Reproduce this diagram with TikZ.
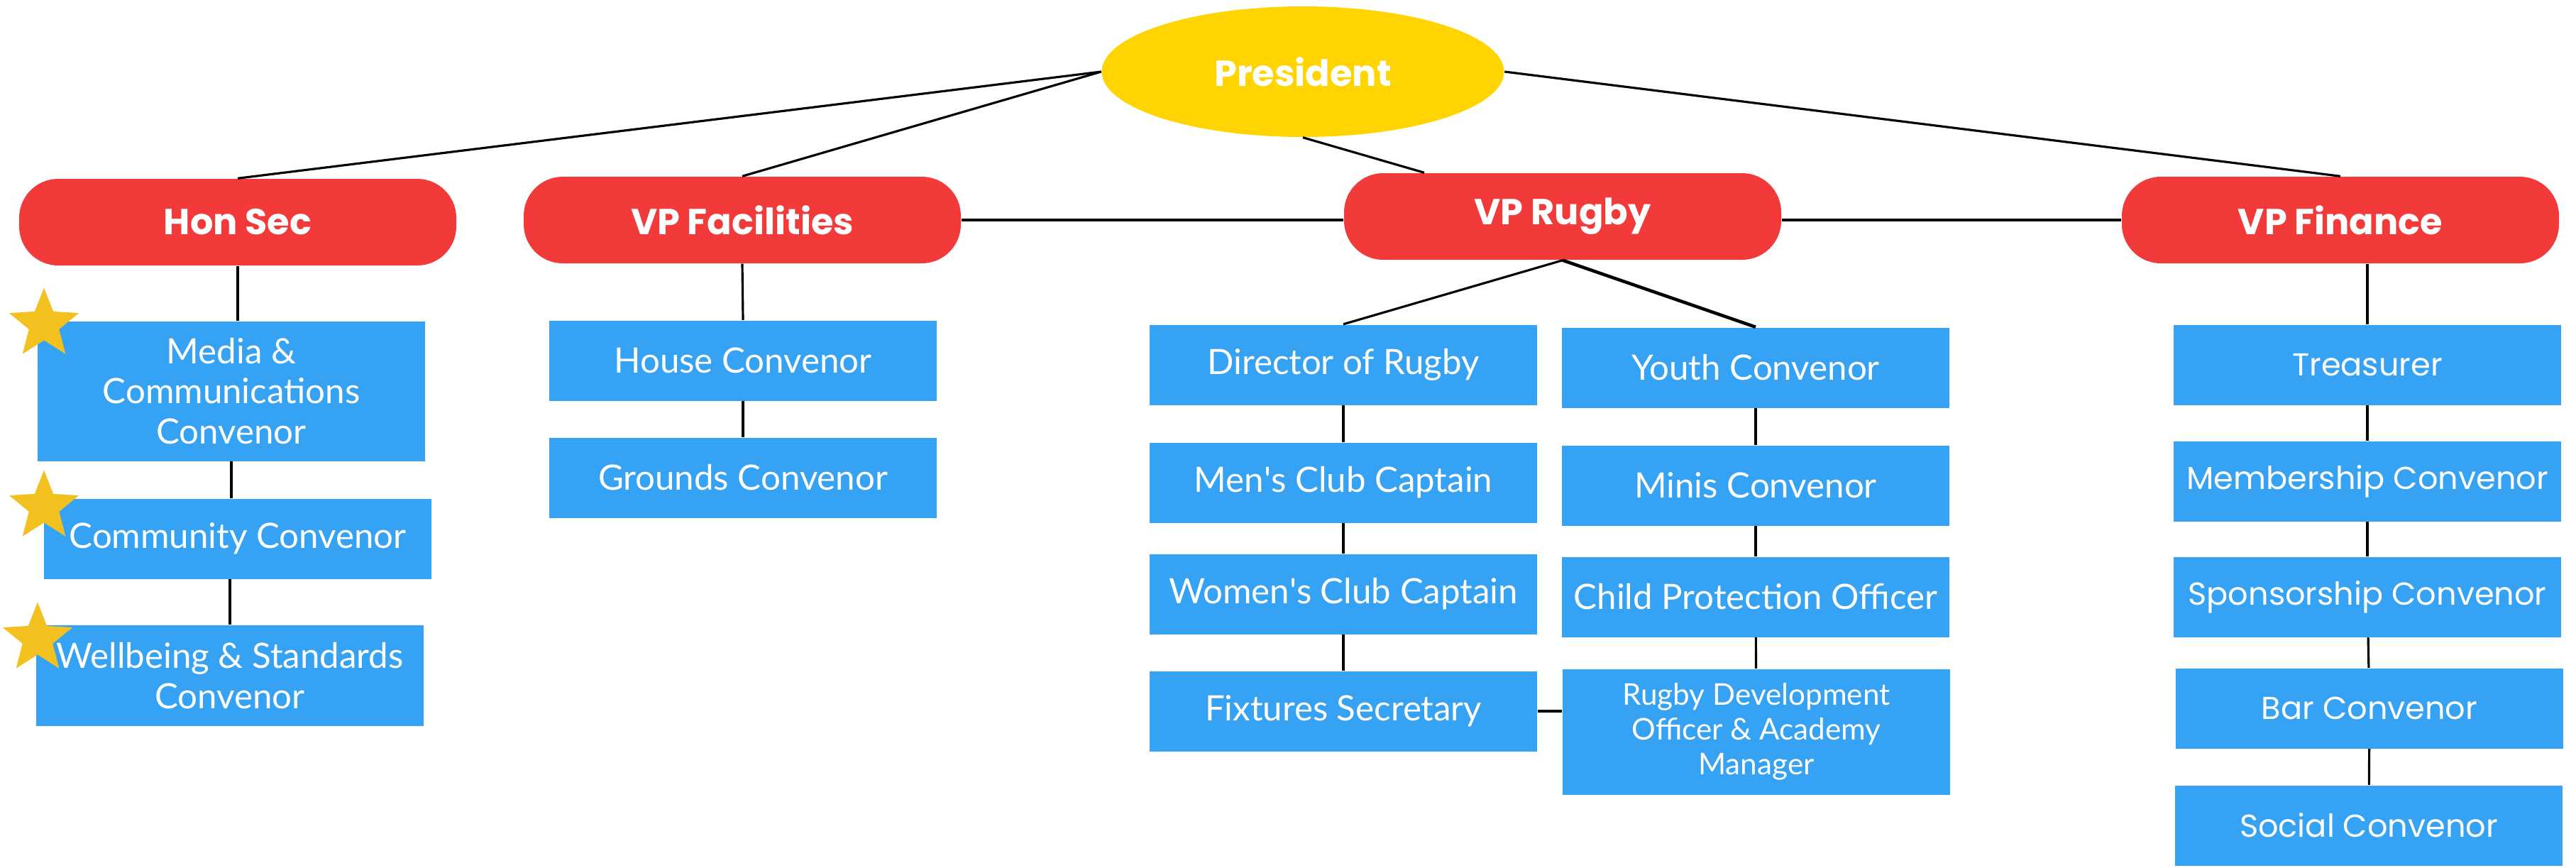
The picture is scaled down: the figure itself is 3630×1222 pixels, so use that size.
\documentclass[tikz,border=0pt]{standalone}
\usepackage{fontspec}
\setmainfont{Lato}
\newfontfamily\finfont{Poppins}
\usetikzlibrary{shapes.geometric}
\definecolor{pillred}{HTML}{F23A3A}
\definecolor{boxblue}{HTML}{36A2F3}
\definecolor{presgold}{HTML}{FFD400}
\definecolor{stargold}{HTML}{F2C11F}
\begin{document}
\begin{tikzpicture}[x=0.1mm,y=-0.1mm,
                    pill/.style={fill=pillred,rounded corners=5.5mm,minimum width=61.6mm,minimum height=12.2mm,text=white,font=\finfont\bfseries\fontsize{14.5}{17}\selectfont},
                    post/.style={fill=boxblue,minimum width=54.6mm,minimum height=11.3mm,inner sep=1mm,text=white,align=center,font=\fontsize{14}{16}\selectfont},
                    finpost/.style={post,font=\finfont\fontsize{12.7}{15}\selectfont},
                    goldstar/.style={star,star points=5,star point ratio=2.3,fill=stargold,minimum size=10.3mm,inner sep=0pt},
                    link/.style={line width=0.9pt}]
\useasboundingbox (0,0) rectangle (3630,1222);
% top of the tree
\node[ellipse,fill=presgold,minimum width=56.7mm,minimum height=18.4mm,text=white,font=\finfont\bfseries\fontsize{14.5}{17}\selectfont] (pres) at (1836,101) {President};
\node[pill] (hon) at (335,313) {Hon Sec};
\node[pill] (fac) at (1046,310) {VP Facilities};
\node[pill] (rug) at (2202,305) {VP Rugby};
\node[pill] (fin) at (3298,310) {VP Finance};
% hon sec
\node[post,minimum height=19.7mm] (media) at (326,551) {Media \&\\Communications\\Convenor};
\node[post] (comm) at (335,759) {Community Convenor};
\node[post,minimum height=14.2mm] (well) at (324,952) {Wellbeing \& Standards\\Convenor};
% facilities
\node[post] (house) at (1047,508) {House Convenor};
\node[post] (ground) at (1047,673) {Grounds Convenor};
% rugby
\node[post] (dir) at (1893,514) {Director of Rugby};
\node[post] (men) at (1893,680) {Men\textquotesingle s Club Captain};
\node[post] (women) at (1893,837) {Women\textquotesingle s Club Captain};
\node[post] (fix) at (1893,1002) {Fixtures Secretary};
\node[post] (youth) at (2474,518) {Youth Convenor};
\node[post] (minis) at (2474,684) {Minis Convenor};
\node[post] (child) at (2474,841) {Child Protection Officer};
\node[post,minimum height=17.7mm,font=\fontsize{12}{14}\selectfont] (rdo) at (2475,1031) {Rugby Development\\Officer \& Academy\\Manager};
% finance
\node[finpost] (treas) at (3336,514) {Treasurer};
\node[finpost] (memb) at (3336,678) {Membership Convenor};
\node[finpost] (spons) at (3336,841) {Sponsorship Convenor};
\node[finpost] (bar) at (3339,998) {Bar Convenor};
\node[finpost] (social) at (3338,1163) {Social Convenor};
% stars
\node[goldstar] (star1) at (62,457) {};
\node[goldstar] (star2) at (62,714) {};
\node[goldstar] (star3) at (53,900) {};
% links
\draw[link] (pres.west) -- (hon.north);
\draw[link] (pres.west) -- (fac.north);
\draw[link] (pres.east) -- (fin.north);
\draw[link] (pres.south) -- ([xshift=-19.5mm]rug.north);
\draw[link] (fac.east) -- (rug.west |- fac.east);
\draw[link] (rug.east |- fin.west) -- (fin.west);
\draw[link] (hon.south) -- (hon.south |- media.north);
\draw[link] (media.south) -- (media.south |- comm.north);
\draw[link] (well.north |- comm.south) -- (well.north);
\draw[link] (fac.south) -- (house.north);
\draw[link] (house.south) -- (ground.north);
\draw[link] (rug.south) -- (dir.north);
\draw[link,line width=1.3pt] (rug.south) -- (youth.north);
\draw[link] (dir) -- (men);
\draw[link] (men) -- (women);
\draw[link] (women) -- (fix);
\draw[link] (youth) -- (minis);
\draw[link] (minis) -- (child);
\draw[link] (child) -- (rdo);
\draw[link] (fix.east) -- (rdo.west |- fix.east);
\draw[link] (fin.south -| treas.north) -- (treas.north);
\draw[link] (treas) -- (memb);
\draw[link] (memb) -- (spons);
\draw[link] (spons) -- (bar);
\draw[link] (bar) -- (social);
\end{tikzpicture}
\end{document}
